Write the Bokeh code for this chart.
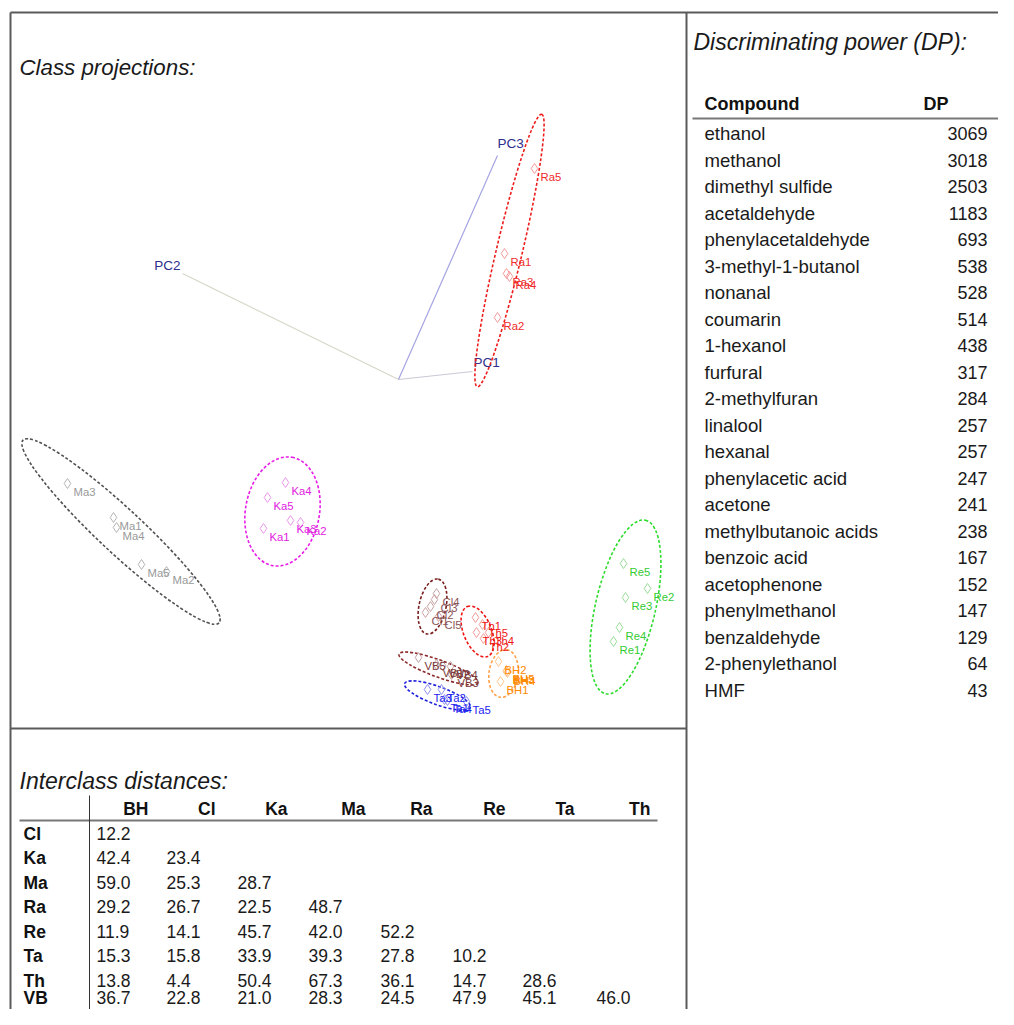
import numpy as np
from bokeh.plotting import figure
from bokeh.models import Range1d
from bokeh.core.properties import value
from bokeh.embed import file_html
from bokeh.resources import INLINE

# ---------------- data ----------------
# class projection scores (PC plane, arbitrary units)
ra_labels = ["Ra1", "Ra2", "Ra3", "Ra4", "Ra5"]
ra_x = [10.6, 9.9, 10.8, 11.1, 13.6]
ra_y = [12.6, 6.2, 10.6, 10.3, 21.1]

ma_labels = ["Ma1", "Ma2", "Ma3", "Ma4", "Ma5"]
ma_x = [-28.5, -23.2, -33.1, -28.2, -25.7]
ma_y = [-13.8, -19.2, -10.4, -14.8, -18.5]

ka_labels = ["Ka1", "Ka2", "Ka3", "Ka4", "Ka5"]
ka_x = [-13.5, -9.8, -10.8, -11.3, -13.1]
ka_y = [-14.9, -14.3, -14.1, -10.3, -11.8]

re_labels = ["Re1", "Re2", "Re3", "Re4", "Re5"]
re_x = [21.5, 24.9, 22.7, 22.1, 22.5]
re_y = [-26.2, -20.9, -21.8, -24.8, -18.4]

cl_labels = ["Cl1", "Cl2", "Cl3", "Cl4", "Cl5"]
cl_x = [2.7, 3.2, 3.6, 3.8, 4.0]
cl_y = [-23.3, -22.7, -22.0, -21.4, -23.7]

th_labels = ["Th1", "Th2", "Th3", "Th4", "Th5"]
th_x = [7.7, 8.5, 7.8, 9.0, 8.4]
th_y = [-23.8, -25.9, -25.3, -25.3, -24.5]

vb_labels = ["VB1", "VB2", "VB3", "VB4", "VB5"]
vb_x = [3.8, 4.4, 5.3, 5.2, 2.0]
vb_y = [-28.5, -28.6, -29.5, -28.7, -27.8]

ta_labels = ["Ta1", "Ta2", "Ta3", "Ta4", "Ta5"]
ta_x = [4.6, 4.3, 2.9, 4.9, 6.8]
ta_y = [-32.0, -31.0, -31.0, -32.1, -32.2]

bh_labels = ["BH1", "BH2", "BH3", "BH4", "BH5"]
bh_x = [10.2, 10.0, 10.8, 10.9, 10.8]
bh_y = [-30.2, -28.2, -29.2, -29.3, -29.1]

# class confidence ellipses
ell_class = ["Ra", "Ma", "Ka", "Re", "Cl", "Th", "VB", "Ta", "BH"]
ell_cx = [11.1, -27.75, -11.6, 22.7, 3.4, 7.9, 4.0, 3.9, 10.5]
ell_cy = [12.9, -15.2, -13.2, -22.75, -22.7, -25.2, -28.9, -31.6, -29.4]
ell_major = [28.0, 26.8, 11.0, 17.8, 5.6, 5.4, 8.4, 7.0, 4.8]
ell_minor = [2.6, 4.4, 7.4, 6.0, 2.7, 2.8, 1.7, 1.8, 2.9]
ell_angle_deg = [76.7, -43.0, 80.0, 77.0, 78.0, 112.0, -20.0, -20.0, 82.0]

# principal component loading axes
pc_names = ["PC1", "PC2", "PC3"]
pc_end_x = [7.4, -21.6, 9.9]
pc_end_y = [0.8, 10.6, 22.4]

# discriminating power table
compounds = ["ethanol", "methanol", "dimethyl sulfide", "acetaldehyde",
             "phenylacetaldehyde", "3-methyl-1-butanol", "nonanal", "coumarin",
             "1-hexanol", "furfural", "2-methylfuran", "linalool", "hexanal",
             "phenylacetic acid", "acetone", "methylbutanoic acids", "benzoic acid",
             "acetophenone", "phenylmethanol", "benzaldehyde", "2-phenylethanol", "HMF"]
dp_values = [3069, 3018, 2503, 1183, 693, 538, 528, 514, 438, 317, 284, 257, 257,
             247, 241, 238, 167, 152, 147, 129, 64, 43]

# interclass distances (lower triangle)
dist_cols = ["BH", "Cl", "Ka", "Ma", "Ra", "Re", "Ta", "Th"]
dist_rows = ["Cl", "Ka", "Ma", "Ra", "Re", "Ta", "Th", "VB"]
dist_matrix = [
    [12.2],
    [42.4, 23.4],
    [59.0, 25.3, 28.7],
    [29.2, 26.7, 22.5, 48.7],
    [11.9, 14.1, 45.7, 42.0, 52.2],
    [15.3, 15.8, 33.9, 39.3, 27.8, 10.2],
    [13.8, 4.4, 50.4, 67.3, 36.1, 14.7, 28.6],
    [36.7, 22.8, 21.0, 28.3, 24.5, 47.9, 45.1, 46.0],
]

# ---------------- styles ----------------
FONT = value("Liberation Sans")
class_style = {
    # ellipse colour, label colour, marker colour
    "Ra": ("#ee1c1c", "#ee2a2a", "#f29a9a"),
    "Ma": ("#505050", "#999999", "#b4b4b4"),
    "Ka": ("#e81ce8", "#e020e0", "#ea98ea"),
    "Re": ("#2edc2e", "#33cc33", "#9ade9a"),
    "Cl": ("#7a1f1f", "#8a5555", "#c9a2a2"),
    "Th": ("#ee1414", "#ee1414", "#f29a9a"),
    "VB": ("#8b2a2a", "#7a3a3a", "#c4a2a2"),
    "Ta": ("#2020dd", "#2222ee", "#9090ee"),
    "BH": ("#ffa24a", "#ff8a00", "#ffc48a"),
}
samples = [
    ("Ra", ra_labels, ra_x, ra_y), ("Ma", ma_labels, ma_x, ma_y),
    ("Ka", ka_labels, ka_x, ka_y), ("Re", re_labels, re_x, re_y),
    ("Cl", cl_labels, cl_x, cl_y), ("Th", th_labels, th_x, th_y),
    ("VB", vb_labels, vb_x, vb_y), ("Ta", ta_labels, ta_x, ta_y),
    ("BH", bh_labels, bh_x, bh_y),
]

W, H = 998, 1009
p = figure(width=W, height=H, x_range=Range1d(0, W), y_range=Range1d(H, 0),
           output_backend="svg", toolbar_location=None, min_border=0,
           x_axis_location=None, y_axis_location=None, outline_line_color=None,
           background_fill_color="white", border_fill_color="white")
p.grid.visible = False
# score coordinate system of the projection panel (10 px per unit, origin at px (398, 379))
OX, OY, K = 398.0, 379.0, 10.0
p.extra_x_ranges = {"sx": Range1d((0 - OX) / K, (W - OX) / K)}
p.extra_y_ranges = {"sy": Range1d((OY - H) / K, OY / K)}
S = dict(x_range_name="sx", y_range_name="sy")
MID = dict(text_baseline="middle", text_font=FONT)

# --- frame lines (layout) ---
frame = dict(x0=[10, 10, 686, 10], y0=[12, 12, 12, 728],
             x1=[W, 10, 686, 686], y1=[12, H, H, 728])
p.segment(**frame, line_color="#5a5a5a", line_width=2)

# --- PC loading axes ---
pc_colors = ["#c9c9d6", "#d6d6c8", "#a4a4e2"]
for i in range(3):
    p.line([0, pc_end_x[i]], [0, pc_end_y[i]], line_color=pc_colors[i], line_width=1.2, **S)
pc_off = [(1, -9, "left"), (-2, -8, "right"), (0, -12, "left")]
for i, name in enumerate(pc_names):
    dx, dy, al = pc_off[i]
    p.text([pc_end_x[i]], [pc_end_y[i]], text=[name], x_offset=dx, y_offset=dy,
           text_align=al, text_font_size="13.5px", text_color="#2e2e8c", **MID, **S)

# --- ellipses ---
for i, c in enumerate(ell_class):
    p.ellipse(x=[ell_cx[i]], y=[ell_cy[i]], width=[ell_major[i]], height=[ell_minor[i]],
              angle=[np.deg2rad(ell_angle_deg[i])], fill_color=None,
              line_color=class_style[c][0], line_width=1.6, line_dash="3 2", **S)

# --- samples ---
for c, labs, xs, ys in samples:
    ec, lc, mc = class_style[c]
    p.scatter(xs, ys, marker="diamond", size=10, fill_color=None, line_color=mc,
              line_width=1, **S)
    p.text(xs, ys, text=labs, x_offset=6, y_offset=8, text_align="left",
           text_font_size="11.3px", text_color=lc, **MID, **S)

# --- titles ---
p.text([19], [67], text=["Class projections:"], text_font_size="22.3px",
       text_font_style="italic", text_color="#1a1a1a", **MID)
p.text([693], [41], text=["Discriminating power (DP):"], text_font_size="23px",
       text_font_style="italic", text_color="#1a1a1a", **MID)
p.text([19], [780], text=["Interclass distances:"], text_font_size="23px",
       text_font_style="italic", text_color="#1a1a1a", **MID)

# --- DP table ---
row_y = [133 + 26.52 * i for i in range(len(compounds))]
p.text([704], [103], text=["Compound"], text_font_size="18px",
       text_font_style="bold", text_color="#111111", **MID)
p.text([948], [103], text=["DP"], text_font_size="18px",
       text_font_style="bold", text_color="#111111", text_align="right", **MID)
p.segment([692], [118], [998], [118], line_color="#777777", line_width=2)
p.text([704] * len(compounds), row_y, text=compounds,
       text_font_size="18.6px", text_color="#1a1a1a", **MID)
p.text([987] * len(dp_values), row_y, text=[str(v) for v in dp_values],
       text_font_size="18px", text_color="#1a1a1a", text_align="right", **MID)

# --- interclass distance table ---
col_right = [148, 215, 287, 365, 432, 505, 574, 650]
col_left = [96, 166, 237, 308, 380, 452, 522, 596]
drow_y = [833, 857, 882, 906, 931, 955, 980, 997]
p.text(col_right, [808] * len(dist_cols), text=dist_cols,
       text_font_size="17.5px", text_font_style="bold", text_color="#111111",
       text_align="right", **MID)
p.segment([19], [820], [657], [820], line_color="#777777", line_width=2)
p.segment([89], [795], [89], [H], line_color="#333333", line_width=1)
p.text([23] * len(dist_rows), drow_y, text=dist_rows,
       text_font_size="17.5px", text_font_style="bold", text_color="#111111", **MID)
vx, vy, vt = [], [], []
for r, vals in enumerate(dist_matrix):
    for c, v in enumerate(vals):
        vx.append(col_left[c]); vy.append(drow_y[r]); vt.append(f"{v:.1f}")
p.text(vx, vy, text=vt, text_font_size="17.5px", text_color="#1a1a1a", **MID)

open("out.html", "w").write(file_html(p, INLINE))
